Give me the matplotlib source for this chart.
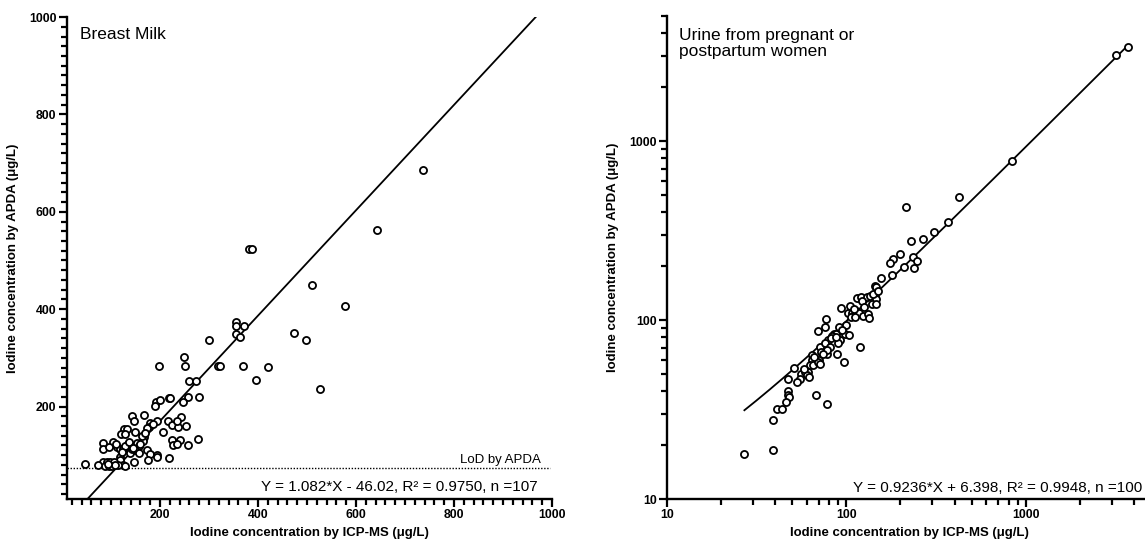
import numpy as np
import matplotlib.pyplot as plt
from matplotlib.ticker import MultipleLocator, LogLocator, NullFormatter, FixedLocator

plt.rcParams['font.family'] = ['Liberation Sans', 'DejaVu Sans']

# ---- Breast milk: ICP-MS (x) vs APDA (y), ug/L
milk_icp = [737, 642, 381, 388, 510, 578, 474, 497, 527, 395, 421, 369, 355, 354, 371, 354, 363,
            299, 319, 322, 248, 251, 198, 259, 273, 218, 221, 258, 279, 246, 192, 190, 168, 142,
            146, 179, 178, 193, 217, 224, 237, 253, 242, 206, 127, 132, 120, 129, 148, 173, 168,
            224, 241, 227, 234, 258, 278, 84, 103, 83, 95, 112, 118, 125, 135, 142, 152, 156, 149,
            156, 139, 142, 166, 163, 173, 180, 176, 194, 194, 218, 147, 118, 118, 125, 129, 115,
            84, 91, 98, 105, 88, 95, 101, 108, 73, 47,
            128, 137, 145, 160, 170, 185, 110, 122, 200, 234, 94]
milk_apda = [686, 563, 524, 524, 450, 407, 352, 337, 236, 254, 281, 284, 374, 365, 365, 349, 343,
             337, 284, 284, 302, 284, 284, 252, 252, 218, 218, 220, 220, 210, 210, 201, 182, 180,
             170, 167, 158, 170, 170, 162, 158, 160, 179, 148, 154, 154, 143, 143, 147, 156, 137,
             132, 132, 121, 123, 120, 134, 126, 128, 112, 117, 117, 112, 112, 122, 119, 126, 119, 110,
             105, 105, 112, 129, 139, 110, 103, 91, 100, 96, 95, 86, 97, 90, 79, 78, 79,
             85, 85, 85, 85, 78, 78, 78, 79, 80, 81,
             118, 128, 115, 122, 145, 165, 122, 106, 213, 170, 82]
milk_slope, milk_icept = 1.082, -46.02
milk_lod = 73
milk_eq = "Y = 1.082*X - 46.02, R\u00b2 = 0.9750, n =107"

# ---- Urine from pregnant or postpartum women
urine_icp = [27, 39, 39, 41, 44, 47, 47, 48, 46, 68, 78, 47, 51,
             56, 59, 61, 60, 62, 55, 53, 64, 64, 63, 65, 70, 69,
             71, 72, 78, 71, 85, 88, 83, 79, 76, 92, 90, 81, 78, 74,
             89, 97, 119, 91, 100, 98, 103, 77, 76, 69,
             102, 108, 109, 113, 118, 124, 132, 134, 106, 112, 93, 104,
             114, 121, 130, 122, 135, 145, 147, 138, 147, 144, 146, 180, 155,
             236, 247, 208, 237, 199, 182, 175, 228, 268, 214,
             307, 366, 425, 840, 3170, 3715,
             82, 87, 95, 110, 125, 140, 150, 66, 58]
urine_apda = [17.8, 18.8, 27.6, 32, 32, 40, 38, 37, 35, 38, 34, 47, 54,
              50, 51, 51, 49, 48, 47, 45, 64, 60, 56, 56, 60, 58,
              71, 66.5, 65, 57, 84, 84, 81, 77, 74, 77, 74, 71, 68, 65,
              65, 58, 71, 92, 94, 84, 82, 101, 92, 87,
              109, 109, 105, 113, 109, 105, 108, 102, 103.5, 103.5, 117, 120,
              132, 134, 134, 128, 136, 136, 131, 123, 123, 155, 152, 179, 171,
              224, 213, 197, 195, 234, 218, 209, 276, 282, 430,
              309, 352, 486, 776, 3020, 3350,
              79, 80, 88, 115, 118, 140, 145, 62, 53]
urine_slope, urine_icept = 0.9236, 6.398
urine_eq = "Y = 0.9236*X + 6.398, R\u00b2 = 0.9948, n =100"

xlab = "Iodine concentration by ICP-MS (\u03bcg/L)"
ylab = "Iodine concentration by APDA (\u03bcg/L)"

fig = plt.figure(figsize=(11.45, 5.44), dpi=100)
ax1 = fig.add_axes([0.0585, 0.0827, 0.4236, 0.886])
ax2 = fig.add_axes([0.5825, 0.0827, 0.4231, 0.888])


def style(ax):
  for s in ['top', 'right']:
    ax.spines[s].set_visible(False)
  for s in ['left', 'bottom']:
    ax.spines[s].set_linewidth(1.7)
  ax.tick_params(which='major', length=6, width=1.6, pad=1.5, labelsize=8.8)
  ax.tick_params(which='minor', length=4, width=1.6)
  for lab in ax.get_xticklabels() + ax.get_yticklabels():
    lab.set_fontweight('bold')
  ax.set_xlabel(xlab, fontsize=9.5, fontweight='bold', labelpad=4)
  ax.set_ylabel(ylab, fontsize=9.5, fontweight='bold', labelpad=7)


# left panel
ax1.scatter(milk_icp, milk_apda, s=26, facecolors='white', edgecolors='black',
            linewidths=1.3, zorder=3)
x_lo = (10 - milk_icept) / milk_slope
x_hi = (1000 - milk_icept) / milk_slope
xs = np.array([x_lo, x_hi])
ax1.plot(xs, milk_slope * xs + milk_icept, color='black', lw=1.3)
ax1.plot([10, 996], [milk_lod, milk_lod], color='black', lw=1.0, ls=(0, (1, 1.2)))
ax1.text(978, milk_lod + 5, "LoD by APDA", ha='right', va='bottom', fontsize=9.5)
ax1.text(971, 34, milk_eq, ha='right', va='center', fontsize=11)
ax1.text(37, 965, "Breast Milk", ha='left', va='center', fontsize=12.5)
ax1.set_xlim(10, 1000)
ax1.set_ylim(10, 1000)
ax1.xaxis.set_major_locator(FixedLocator([200, 400, 600, 800, 1000]))
ax1.yaxis.set_major_locator(FixedLocator([200, 400, 600, 800, 1000]))
ax1.xaxis.set_minor_locator(MultipleLocator(20))
ax1.yaxis.set_minor_locator(MultipleLocator(20))
style(ax1)

# right panel
ax2.set_xscale('log')
ax2.set_yscale('log')
ax2.scatter(urine_icp, urine_apda, s=26, facecolors='white', edgecolors='black',
            linewidths=1.3, zorder=3)
xu = np.geomspace(min(urine_icp), max(urine_icp), 200)
ax2.plot(xu, urine_slope * xu + urine_icept, color='black', lw=1.3)
ax2.text(109, 11.5, urine_eq, ha='left', va='center', fontsize=11)
ax2.text(11.6, 3500, "Urine from pregnant or\npostpartum women", ha='left', va='center',
         fontsize=12.5, linespacing=1.05)
ax2.set_xlim(10, 5000)
ax2.set_ylim(10, 5000)
for axis in [ax2.xaxis, ax2.yaxis]:
  axis.set_major_locator(FixedLocator([10, 100, 1000]))
  axis.set_major_formatter(plt.FuncFormatter(lambda v, p: "%d" % v))
  axis.set_minor_locator(LogLocator(base=10, subs=np.arange(2, 10)))
  axis.set_minor_formatter(NullFormatter())
style(ax2)

plt.savefig('out.png', dpi=100)
